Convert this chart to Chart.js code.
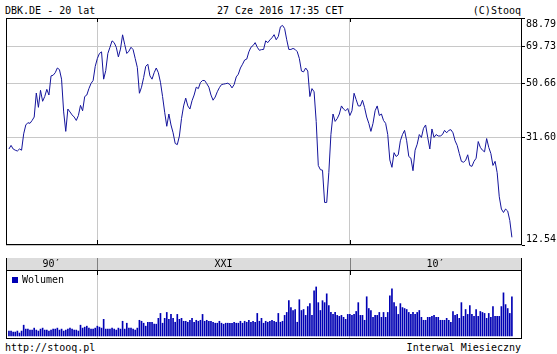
<!DOCTYPE html>
<html>
<head>
<meta charset="utf-8">
<script src="https://cdn.jsdelivr.net/npm/chart.js@4.4.1/dist/chart.umd.min.js"></script>
<style>
    html, body { margin: 0; padding: 0; background: #fff; }
    body { width: 557px; height: 354px; position: relative; overflow: hidden;
           font-family: 'DejaVu Sans Mono', monospace; font-size: 10px; color: #000; }
    .txt { position: absolute; line-height: 12px; white-space: pre; }
    canvas { position: absolute; left: 0; }
    #price { top: 0; }
    #vol { top: 270px; }
    #band { position: absolute; left: 6px; top: 258px; width: 514px; height: 12px;
            background: #dcdcdc; border-left: 1px solid #000; border-right: 1px solid #000; }
    .sep { position: absolute; top: 258px; width: 1px; height: 12px; background: #808080; }
    #legend { left: 12px; top: 274px; }
    #legend i { display: inline-block; width: 6px; height: 6px; background: #0000b4;
                margin-right: 4px; vertical-align: 0px; }
</style>
</head>
<body>
<div class="txt" style="left:5px; top:5px;">DBK.DE - 20 lat</div>
<div class="txt" style="left:217px; top:5px;">27 Cze 2016 17:35 CET</div>
<div class="txt" style="right:36px; top:5px;">(C)Stooq</div>

<canvas id="price" width="557" height="258"></canvas>
<div id="band"></div>
<canvas id="vol" width="557" height="69"></canvas>
<div class="txt" id="legend"><i></i>Wolumen</div>

<div class="txt" style="left:5px; top:342px;">http://stooq.pl</div>
<div class="txt" style="right:36px; top:342px;">Interwal Miesieczny</div>

<script>
// monthly close, Jul 1996 - Jun 2016
const price = [
    28.7, 29.6, 28.7, 28.4, 28.2, 28.7, 28.4, 32.7, 35.3, 36.0,
    35.8, 36.7, 37.8, 46.5, 41.1, 47.6, 43.3, 45.1, 48.0, 45.7,
    53.9, 54.2, 55.4, 57.7, 56.9, 52.4, 39.5, 33.4, 40.5, 39.5,
    38.5, 37.8, 36.7, 38.3, 41.8, 39.9, 45.1, 45.7, 48.3, 50.5,
    51.8, 58.5, 62.6, 65.4, 66.3, 52.4, 56.4, 65.4, 69.0, 72.9,
    71.8, 69.0, 63.5, 67.9, 76.8, 70.7, 65.4, 66.7, 69.0, 67.6,
    62.6, 58.0, 46.4, 48.9, 53.1, 58.5, 59.6, 53.9, 52.4, 55.4,
    57.7, 55.4, 51.0, 45.1, 39.4, 34.9, 38.8, 35.3, 33.0, 30.1,
    29.8, 32.1, 37.3, 41.6, 44.5, 41.6, 40.5, 43.5, 45.7, 48.9,
    48.3, 50.9, 51.8, 51.8, 50.4, 48.9, 45.7, 43.7, 44.9, 47.0,
    48.7, 50.0, 50.2, 50.4, 50.6, 50.0, 48.6, 50.0, 53.4, 54.7,
    57.7, 59.6, 61.8, 62.3, 66.3, 69.0, 70.0, 71.8, 69.0, 67.2,
    67.6, 67.7, 72.9, 71.8, 73.5, 74.9, 76.9, 73.6, 75.7, 82.3,
    83.3, 81.1, 73.6, 67.7, 67.7, 68.3, 67.7, 66.4, 62.6, 56.2,
    55.8, 57.7, 56.2, 45.1, 48.3, 47.0, 36.4, 24.9, 24.0, 23.9,
    18.1, 18.1, 23.4, 32.5, 38.8, 36.4, 37.3, 38.8, 41.6, 40.5,
    39.9, 40.7, 38.3, 39.9, 46.4, 43.9, 41.6, 41.6, 43.7, 41.0,
    37.8, 35.8, 33.4, 35.8, 39.9, 41.6, 38.3, 38.8, 36.7, 35.8,
    32.5, 26.1, 24.5, 27.8, 26.9, 27.3, 30.8, 32.5, 33.7, 30.8,
    26.9, 26.5, 23.8, 28.4, 29.9, 32.5, 31.7, 34.3, 35.3, 31.7,
    28.7, 34.1, 31.7, 32.5, 32.1, 32.1, 32.5, 33.7, 33.0, 33.7,
    33.9, 33.0, 30.8, 29.6, 27.6, 25.8, 25.6, 26.0, 27.3, 24.9,
    24.7, 25.8, 26.5, 30.6, 29.1, 28.4, 28.0, 31.4, 29.1, 27.6,
    24.9, 25.8, 23.4, 19.0, 17.1, 16.6, 17.1, 16.8, 15.5, 13.4
];

// monthly volume, mln
const volume = [
    50, 50, 40, 40, 50, 30, 50, 110, 70, 70,
    60, 60, 80, 60, 50, 70, 80, 60, 60, 50,
    60, 70, 70, 80, 60, 70, 50, 60, 70, 80,
    70, 60, 60, 50, 110, 80, 90, 100, 80, 70,
    70, 80, 100, 90, 80, 170, 70, 70, 70, 80,
    70, 60, 80, 70, 150, 70, 130, 80, 80, 70,
    60, 80, 160, 150, 130, 100, 140, 140, 140, 120,
    120, 180, 230, 130, 180, 240, 170, 220, 180, 140,
    220, 170, 180, 150, 150, 140, 160, 180, 140, 160,
    150, 160, 220, 150, 160, 150, 150, 140, 130, 130,
    150, 130, 120, 130, 130, 130, 130, 140, 130, 130,
    150, 130, 150, 140, 160, 140, 150, 140, 230, 150,
    180, 130, 150, 140, 150, 160, 150, 140, 230, 140,
    150, 210, 240, 360, 290, 260, 270, 140, 370, 260,
    270, 210, 300, 330, 210, 460, 500, 340, 260, 360,
    340, 430, 310, 240, 220, 240, 210, 200, 210, 190,
    170, 220, 220, 210, 220, 250, 340, 210, 210, 160,
    400, 280, 260, 190, 210, 210, 240, 190, 240, 190,
    240, 410, 480, 340, 300, 220, 330, 290, 280, 270,
    240, 220, 240, 220, 240, 260, 190, 160, 160, 190,
    190, 200, 210, 190, 190, 160, 160, 160, 180, 160,
    140, 250, 210, 220, 180, 340, 200, 270, 220, 310,
    220, 200, 270, 200, 250, 240, 230, 180, 230, 190,
    300, 200, 200, 200, 300, 440, 320, 280, 230, 400
];

const startYear = 1996;
const startMonth = 7;
const decadeStarts = ['2000-01', '2010-01'];
const eraLabels = ['90\u2032', 'XXI', '10\u2032'];
const yTicks = [12.54, 31.60, 50.66, 69.73, 88.79];

const months = [];
for (let i = 0; i < price.length; i++) {
    const m = startMonth - 1 + i;
    months.push((startYear + Math.floor(m / 12)) + '-' + String(m % 12 + 1).padStart(2, '0'));
}
const decadeIdx = decadeStarts.map(d => months.indexOf(d));

const monoFont = { family: 'DejaVu Sans Mono', size: 10 };
const gridGray = '#c8c8c8';

// black frame round the plot + short marks at the decade lines
const framePlugin = {
    id: 'frame',
    afterDraw(chart, args, opts) {
        const ctx = chart.ctx;
        const a = chart.chartArea;
        const x = chart.scales.x;
        ctx.save();
        ctx.strokeStyle = '#000';
        ctx.lineWidth = 1;
        ctx.strokeRect(a.left + 0.5, a.top + 0.5, a.right - a.left - 1, a.bottom - a.top - 1);
        x.ticks.forEach(t => {
            const px = Math.round(x.getPixelForValue(t.value)) + 0.5;
            ctx.beginPath();
            if (opts.top) { ctx.moveTo(px, a.top); ctx.lineTo(px, a.top + opts.top); }
            if (opts.bottom) { ctx.moveTo(px, a.bottom); ctx.lineTo(px, a.bottom - opts.bottom); }
            ctx.stroke();
        });
        ctx.restore();
    }
};

function xScale() {
    return {
        type: 'linear',
        min: -1.4,
        max: price.length - 1 + 4.8,
        offset: false,
        afterBuildTicks: s => { s.ticks = decadeIdx.map(v => ({ value: v })); },
        afterFit: s => { s.height = 0; },
        ticks: { display: false },
        grid: { color: gridGray, drawTicks: false, offset: false },
        border: { display: false }
    };
}

const priceChart = new Chart(document.getElementById('price'), {
    type: 'line',
    data: {
        datasets: [{
            data: price.map((v, i) => ({ x: i, y: v })),
            borderColor: '#14149b',
            borderWidth: 1,
            pointRadius: 0,
            tension: 0,
            fill: false
        }]
    },
    options: {
        responsive: false,
        animation: false,
        layout: { padding: { left: 6, top: 18, right: 0, bottom: 0 } },
        plugins: {
            legend: { display: false },
            tooltip: { enabled: false },
            frame: { top: 4, bottom: 5 }
        },
        scales: {
            x: xScale(),
            y: {
                type: 'logarithmic',
                position: 'right',
                min: yTicks[0],
                max: yTicks[yTicks.length - 1],
                afterBuildTicks: s => { s.ticks = yTicks.map(v => ({ value: v })); },
                afterFit: s => { s.width = 35; },
                border: { display: false },
                grid: { color: gridGray, tickColor: '#000', tickLength: 3 },
                ticks: {
                    color: '#000',
                    padding: 1,
                    autoSkip: false,
                    font: monoFont,
                    callback: function (value) {
                        const label = value.toFixed(2);
                        if (value === yTicks[yTicks.length - 1]) return ['', label];
                        if (value === yTicks[0]) return [label, ''];
                        return label;
                    }
                }
            }
        }
    },
    plugins: [framePlugin]
});

new Chart(document.getElementById('vol'), {
    type: 'bar',
    data: {
        datasets: [{
            data: volume.map((v, i) => ({ x: i, y: v })),
            backgroundColor: '#0000b4',
            borderWidth: 0,
            barThickness: 1
        }]
    },
    options: {
        responsive: false,
        animation: false,
        layout: { padding: { left: 6, top: 0, right: 35, bottom: 0 } },
        plugins: {
            legend: { display: false },
            tooltip: { enabled: false },
            frame: { top: 5, bottom: 0 }
        },
        scales: {
            x: xScale(),
            y: { display: false, min: -31, max: 673 }
        }
    },
    plugins: [framePlugin]
});

// era band under the price chart: separators at the decade lines, labels centred between them
const xs = priceChart.scales.x;
const cuts = [xs.left].concat(decadeIdx.map(i => Math.round(xs.getPixelForValue(i)))).concat([xs.right - 1]);
decadeIdx.forEach((idx, k) => {
    const sep = document.createElement('div');
    sep.className = 'sep';
    sep.style.left = cuts[k + 1] + 'px';
    document.body.appendChild(sep);
});
eraLabels.forEach((txt, k) => {
    const el = document.createElement('div');
    el.className = 'txt';
    el.textContent = txt;
    el.style.top = '258px';
    el.style.left = cuts[k] + 'px';
    el.style.width = (cuts[k + 1] - cuts[k]) + 'px';
    el.style.textAlign = 'center';
    document.body.appendChild(el);
});
</script>
</body>
</html>
